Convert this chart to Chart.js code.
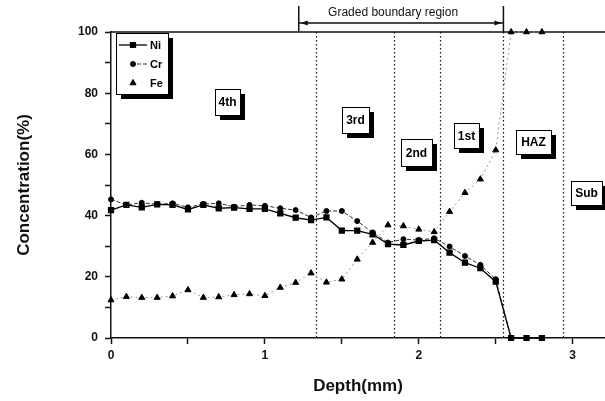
<!DOCTYPE html>
<html lang="en">
<head>
  <meta charset="UTF-8">
  <title>Concentration vs Depth</title>
  <style>
    body { margin: 0; background: #fff; }
    canvas { display: block; }
  </style>
</head>
<body>
  <canvas id="chart_Perfil" width="605" height="401"></canvas>

  <script src="https://cdn.jsdelivr.net/npm/chart.js"></script>
  <script>
    // depth (mm) of each measurement
    const profundidade = [0, 0.1, 0.2, 0.3, 0.4, 0.5, 0.6, 0.7, 0.8, 0.9, 1.0, 1.1, 1.2, 1.3, 1.4,
      1.5, 1.6, 1.7, 1.8, 1.9, 2.0, 2.1, 2.2, 2.3, 2.4, 2.5, 2.6, 2.7, 2.8];

    const valoresNi = [41.8, 43.5, 42.7, 43.7, 43.5, 42.0, 43.5, 42.4, 42.6, 42.2, 42.2, 40.7, 39.3, 38.5, 39.4,
      35.1, 35.1, 33.9, 30.7, 30.4, 31.7, 32.0, 27.9, 24.6, 22.8, 18.4, 0, 0, 0];
    const valoresCr = [45.3, 43.5, 44.2, 43.7, 44.0, 42.7, 43.8, 44.0, 42.9, 43.5, 43.2, 42.4, 41.8, 39.4, 41.5,
      41.5, 38.2, 34.5, 31.2, 32.3, 32.0, 32.6, 29.9, 26.8, 23.9, 19.2, 0, 0, 0];
    const valoresFe = [12.4, 13.5, 13.2, 13.2, 13.7, 15.7, 13.2, 13.4, 14.1, 14.4, 13.8, 16.5, 18.1, 21.2, 18.2,
      19.2, 25.7, 31.2, 36.9, 36.6, 35.5, 34.7, 41.3, 47.5, 51.9, 61.4, 100, 100, 100];

    const limitesZonas = [1.33, 1.84, 2.14, 2.55, 2.94];
    const regiaoGradual = [1.22, 2.55];
    const nomesZonas = ['4th', '3rd', '2nd', '1st', 'HAZ', 'Sub'];

    function pontos(valores) {
      return profundidade.map((x, i) => ({ x: x, y: valores[i] }));
    }

    function caixaSombra(ctx, x, y, w, h) {
      ctx.fillStyle = '#000';
      ctx.fillRect(x + 5, y + 5, w, h);
      ctx.fillStyle = '#fff';
      ctx.fillRect(x, y, w, h);
      ctx.strokeStyle = '#000';
      ctx.lineWidth = 1;
      ctx.strokeRect(x + 0.5, y + 0.5, w, h);
    }

    const anotacoes = {
      id: 'anotacoes',
      beforeDatasetsDraw(chart) {
        const ctx = chart.ctx;
        const area = chart.chartArea;
        const sx = chart.scales.x;
        ctx.save();
        // dotted zone borders
        ctx.strokeStyle = '#111';
        ctx.lineWidth = 1.2;
        ctx.setLineDash([1.5, 2.5]);
        limitesZonas.forEach(d => {
          const px = Math.round(sx.getPixelForValue(d)) + 0.5;
          ctx.beginPath();
          ctx.moveTo(px, area.top);
          ctx.lineTo(px, area.bottom);
          ctx.stroke();
        });
        ctx.setLineDash([]);
        // top frame line
        ctx.lineWidth = 1.5;
        ctx.beginPath();
        ctx.moveTo(area.left, area.top);
        ctx.lineTo(area.right, area.top);
        ctx.stroke();

        // graded boundary region marker
        const x1 = sx.getPixelForValue(regiaoGradual[0]);
        const x2 = sx.getPixelForValue(regiaoGradual[1]);
        const yA = area.top - 9;
        ctx.beginPath();
        ctx.moveTo(x1, area.top - 26); ctx.lineTo(x1, area.top);
        ctx.moveTo(x2, area.top - 26); ctx.lineTo(x2, area.top);
        ctx.moveTo(x1, yA); ctx.lineTo(x2, yA);
        ctx.stroke();
        ctx.fillStyle = '#111';
        ctx.beginPath();
        ctx.moveTo(x1 + 2, yA); ctx.lineTo(x1 + 9, yA - 2.5); ctx.lineTo(x1 + 9, yA + 2.5);
        ctx.closePath(); ctx.fill();
        ctx.beginPath();
        ctx.moveTo(x2 - 2, yA); ctx.lineTo(x2 - 9, yA - 2.5); ctx.lineTo(x2 - 9, yA + 2.5);
        ctx.closePath(); ctx.fill();
        ctx.font = '12px "Liberation Sans", Arial, sans-serif';
        ctx.textAlign = 'center';
        ctx.textBaseline = 'middle';
        ctx.fillText('Graded boundary region', (x1 + x2) / 2 - 8, area.top - 19);
        ctx.restore();
      },
      afterDatasetsDraw(chart) {
        const ctx = chart.ctx;
        const area = chart.chartArea;
        const sx = chart.scales.x;
        const sy = chart.scales.y;
        ctx.save();

        // zone label boxes (anchor = top-left corner in data units)
        const caixas = [
          { x: 0.674, y: 81.4, w: 25, h: 26 },
          { x: 1.504, y: 75.5, w: 27, h: 26 },
          { x: 1.886, y: 65.0, w: 31, h: 27 },
          { x: 2.229, y: 70.3, w: 25, h: 25 },
          { x: 2.631, y: 68.0, w: 35, h: 24 },
          { x: 2.988, y: 51.3, w: 31, h: 24 }
        ];
        ctx.font = 'bold 12px "Liberation Sans", Arial, sans-serif';
        ctx.textAlign = 'center';
        ctx.textBaseline = 'middle';
        caixas.forEach((c, i) => {
          const px = Math.round(sx.getPixelForValue(c.x));
          const py = Math.round(sy.getPixelForValue(c.y));
          caixaSombra(ctx, px, py, c.w, c.h);
          ctx.fillStyle = '#000';
          ctx.fillText(nomesZonas[i], px + c.w / 2, py + c.h / 2 + 1);
        });

        // legend
        const lx = area.left + 5;
        const ly = area.top + 1;
        caixaSombra(ctx, lx, ly, 52, 61);
        ctx.textAlign = 'left';
        ctx.font = 'bold 11px "Liberation Sans", Arial, sans-serif';
        chart.data.datasets.forEach((ds, i) => {
          const yy = ly + 12 + i * 19;
          ctx.strokeStyle = ds.borderColor;
          ctx.lineWidth = ds.borderWidth;
          ctx.setLineDash(ds.borderDash || []);
          ctx.beginPath();
          if (i === 0) { ctx.moveTo(lx + 3, yy); ctx.lineTo(lx + 31, yy); }
          if (i === 1) { ctx.moveTo(lx + 21, yy); ctx.lineTo(lx + 31, yy); }
          ctx.stroke();
          ctx.setLineDash([]);
          ctx.fillStyle = '#000';
          ctx.strokeStyle = '#000';
          Chart.helpers.drawPoint(ctx, { pointStyle: ds.pointStyle, radius: ds.pointRadius, borderWidth: 1, rotation: 0 }, lx + 17, yy);
          ctx.fillStyle = '#000';
          ctx.fillText(ds.label, lx + 34, yy + 1);
        });
        ctx.restore();
      }
    };

    const fonteEixo = { family: '"Liberation Sans", Arial, sans-serif', size: 12, weight: 'bold' };
    const fonteTitulo = { family: '"Liberation Sans", Arial, sans-serif', size: 17, weight: 'bold' };

    new Chart(document.getElementById('chart_Perfil').getContext('2d'), {
      type: 'line',
      data: {
        datasets: [
          {
            label: 'Ni',
            data: pontos(valoresNi),
            borderColor: '#000',
            borderWidth: 1.3,
            pointStyle: 'rect',
            pointRadius: 3.5,
            pointBackgroundColor: '#000',
            pointBorderColor: '#000',
            tension: 0,
            clip: 6
          },
          {
            label: 'Cr',
            data: pontos(valoresCr),
            borderColor: '#333',
            borderWidth: 1,
            borderDash: [4, 2],
            pointStyle: 'circle',
            pointRadius: 2.5,
            pointBackgroundColor: '#000',
            pointBorderColor: '#000',
            tension: 0,
            clip: 6
          },
          {
            label: 'Fe',
            data: pontos(valoresFe),
            borderColor: '#999',
            borderWidth: 1,
            borderDash: [2, 3],
            pointStyle: 'triangle',
            pointRadius: 3.5,
            pointBackgroundColor: '#000',
            pointBorderColor: '#000',
            tension: 0,
            clip: 6
          }
        ]
      },
      options: {
        responsive: false,
        animation: false,
        layout: { autoPadding: false, padding: { top: 32, left: 0, right: 0, bottom: 0 } },
        plugins: {
          legend: { display: false },
          tooltip: { enabled: false }
        },
        scales: {
          x: {
            type: 'linear',
            min: 0,
            max: 3.21,
            afterFit: s => { s.height = 63; s.paddingLeft = 0; s.paddingRight = 0; },
            ticks: {
              stepSize: 0.5,
              includeBounds: false,
              autoSkip: false,
              maxRotation: 0,
              padding: 4,
              color: '#111',
              font: fonteEixo,
              callback: v => Number.isInteger(v) ? v : ''
            },
            grid: { drawOnChartArea: false, tickLength: 6, tickColor: '#111', tickWidth: 1.5 },
            border: { color: '#111', width: 1.5 },
            title: { display: true, text: 'Depth(mm)', color: '#111', font: fonteTitulo, padding: { top: 0, bottom: 4 } }
          },
          y: {
            min: 0,
            max: 100,
            afterFit: s => { s.width = 111; },
            ticks: {
              stepSize: 10,
              padding: 7,
              color: '#111',
              font: fonteEixo,
              callback: v => v % 20 === 0 ? v : ''
            },
            grid: { drawOnChartArea: false, tickLength: 6, tickColor: '#111', tickWidth: 1.5 },
            border: { color: '#111', width: 1.5 },
            title: { display: true, text: 'Concentration(%)', color: '#111', font: fonteTitulo, padding: { top: 14, bottom: 0 } }
          }
        }
      },
      plugins: [anotacoes]
    });
  </script>
</body>
</html>
